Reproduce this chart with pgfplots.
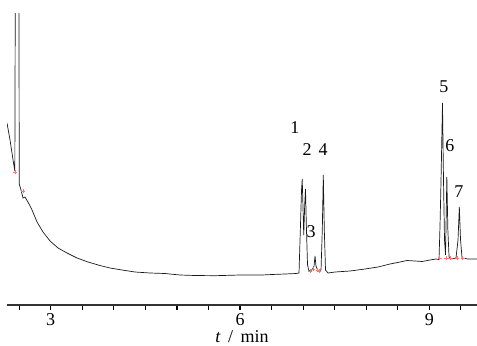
\documentclass[border=0pt]{standalone}
\usepackage{pgfplots}
\pgfplotsset{compat=1.18}
\usepackage{fontspec}
\setmainfont{Liberation Serif}
\begin{document}
\begin{tikzpicture}
\begin{axis}[
  scale only axis,
  width=470pt, height=291pt,
  xmin=2.307, xmax=9.756,
  ymin=0, ymax=291,
  axis x line*=bottom,
  hide y axis,
  clip=true,
  axis line style={black!80, line width=1.2pt},
  xtick={2.5,3,...,9.5},
  xticklabels={,3,,,,,,6,,,,,,9,},
  tick align=outside,
  major tick length=4.5pt,
  tick style={black, line width=1.2pt},
  ticklabel style={font=\fontsize{18}{20}\selectfont, inner sep=0pt},
  xticklabel style={yshift=-3.5pt},
  /pgf/number format/assume math mode=true,
]
\addplot[black!90, line width=0.7pt] coordinates {
(2.307,182) (2.355,165) (2.403,145) (2.431,134)
(2.442,400) (2.4945,400)
(2.501,121) (2.529,115) (2.561,107) (2.593,108) (2.656,101) (2.704,95)
(2.783,83) (2.878,73) (2.989,64) (3.116,57) (3.258,52) (3.417,47)
(3.591,43) (3.781,39.5) (3.940,37) (4.130,35) (4.336,33) (4.574,32)
(4.811,31.5) (5.049,30) (5.287,29.5) (5.604,29.3) (6.000,30) (6.349,30)
(6.507,30.5) (6.713,31) (6.888,31.5) (6.935,32)
(6.956,75) (6.975,115) (6.986,126) (6.997,100) (7.010,70) (7.025,100)
(7.038,116) (7.051,80) (7.070,40) (7.093,34) (7.141,35) (7.173,39)
(7.189,49) (7.204,39) (7.236,34) (7.284,35) (7.304,75) (7.320,130)
(7.336,75) (7.355,35) (7.395,32) (7.506,33) (7.743,34) (7.981,36)
(8.187,38) (8.377,41) (8.536,43) (8.647,44.5) (8.774,44) (8.885,43.5)
(9.012,45) (9.107,46) (9.154,45.5)
(9.170,80) (9.186,125) (9.209,202) (9.225,125) (9.241,65) (9.257,50)
(9.278,128) (9.294,75) (9.313,48) (9.360,46) (9.423,47) (9.455,65)
(9.476,98) (9.495,65) (9.519,47) (9.614,46) (9.756,46)
};
\addplot[only marks, mark=+, mark size=1.8pt, draw=red!55, line width=0.5pt] coordinates {
(2.438,133) (2.565,114)
(7.110,34) (7.160,36) (7.230,35) (7.260,34)
(9.165,47) (9.262,47) (9.330,47) (9.440,47) (9.530,47)
};
\begin{scope}[every node/.style={font=\fontsize{18}{20}\selectfont, inner sep=0pt}]
\node at (axis cs:6.871,177) {1};
\node at (axis cs:7.062,155) {2};
\node at (axis cs:7.316,155) {4};
\node at (axis cs:7.126,73) {3};
\node at (axis cs:9.232,218) {5};
\node at (axis cs:9.327,159) {6};
\node at (axis cs:9.470,113) {7};
\end{scope}
\end{axis}
\node[font=\fontsize{18}{20}\selectfont, inner sep=0pt, anchor=base] at ([yshift=-37.3pt]current axis.south) {\textit{t} \,/\, min};
\pgfresetboundingbox
\path[use as bounding box] ([shift={(-7pt,-40pt)}]current axis.south west) rectangle ([shift={(0pt,14pt)}]current axis.north east);
\end{tikzpicture}
\end{document}
